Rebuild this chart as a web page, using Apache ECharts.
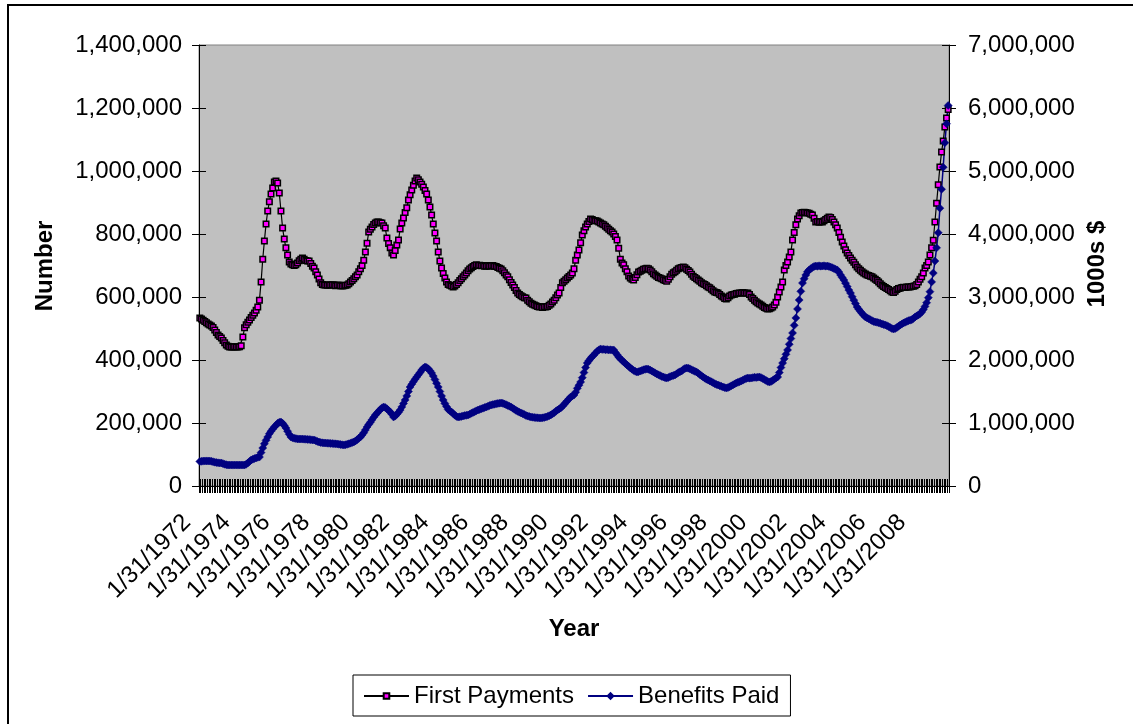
<!DOCTYPE html>
<html>
<head>
<meta charset="utf-8">
<script src="https://cdn.jsdelivr.net/npm/echarts@6/dist/echarts.min.js"></script>
<style>
  html, body { margin: 0; padding: 0; background: #ffffff; }
  #chart { width: 1133px; height: 724px; }
</style>
</head>
<body>
<div id="chart"></div>
<script>
// Monthly series, January 1972 through September 2009 (one row per year).
const firstYear = 1972;

// First payments, thousands of people (left axis)
const firstPaymentsK = [
  533, 530, 526, 522, 518, 514, 511, 508, 503, 495, 487, 479,
  475, 470, 462, 455, 448, 444, 441, 441, 441, 442, 441, 441,
  442, 445, 473, 502, 512, 520, 527, 535, 542, 549, 558, 568,
  590, 648, 720, 778, 832, 873, 902, 927, 946, 965, 968, 962,
  930, 873, 819, 784, 756, 733, 711, 705, 702, 700, 702, 708,
  715, 720, 724, 720, 716, 714, 714, 706, 698, 692, 680, 670,
  657, 645, 640, 638, 638, 637, 638, 638, 639, 638, 636, 637,
  638, 636, 635, 636, 637, 638, 642, 648, 652, 658, 664, 670,
  680, 690, 700, 717, 743, 771, 806, 815, 822, 830, 835, 838,
  838, 836, 835, 826, 819, 787, 770, 756, 740, 733, 748, 765,
  781, 816, 835, 851, 868, 883, 908, 925, 940, 955, 968, 978,
  972, 965, 958, 949, 938, 927, 908, 886, 860, 832, 803, 778,
  743, 714, 692, 675, 660, 648, 640, 637, 635, 632, 635, 640,
  645, 652, 658, 664, 670, 676, 683, 689, 693, 697, 700, 702,
  700, 701, 699, 700, 698, 698, 700, 698, 699, 700, 698, 697,
  694, 691, 689, 683, 677, 670, 664, 655, 646, 638, 630, 621,
  613, 608, 604, 601, 598, 597, 590, 585, 580, 577, 575, 572,
  570, 568, 569, 567, 569, 568, 570, 574, 578, 584, 590, 598,
  606, 613, 630, 645, 650, 655, 660, 665, 670, 676, 690, 717,
  733, 749, 772, 797, 810, 822, 832, 840, 848, 846, 843, 842,
  841, 838, 835, 832, 829, 825, 820, 815, 810, 806, 800, 792,
  781, 755, 720, 708, 702, 690, 680, 667, 660, 656, 654, 662,
  671, 679, 682, 685, 688, 690, 691, 690, 686, 680, 674, 670,
  666, 662, 660, 658, 655, 652, 650, 656, 664, 672, 677, 680,
  685, 690, 692, 694, 695, 693, 688, 684, 679, 672, 666, 662,
  658, 654, 650, 645, 642, 640, 636, 632, 629, 625, 620, 616,
  614, 613, 608, 603, 600, 595, 594, 598, 603, 606, 608, 609,
  611, 612, 613, 613, 614, 613, 612, 613, 608, 600, 595, 590,
  585, 581, 578, 575, 571, 567, 564, 562, 563, 565, 568, 575,
  583, 600, 616, 632, 648, 686, 700, 711, 727, 743, 781, 805,
  829, 848, 858, 867, 868, 869, 868, 867, 866, 863, 860, 850,
  838, 840, 837, 839, 838, 842, 846, 850, 854, 852, 846, 838,
  829, 819, 805, 790, 775, 762, 750, 740, 732, 724, 717, 710,
  702, 695, 690, 685, 680, 676, 673, 670, 668, 666, 664, 660,
  656, 652, 648, 642, 637, 633, 630, 627, 624, 620, 616, 614,
  618, 624, 627, 628, 630, 631, 630, 632, 632, 632, 633, 634,
  636, 640, 648, 656, 664, 676, 692, 700, 711, 733, 756, 780,
  838, 898, 956, 1013, 1060, 1095, 1140, 1168, 1195
];

// Benefits paid, millions of dollars (right axis, shown in 1000s $)
const benefitsPaidM = [
  390, 392, 395, 397, 398, 397, 397, 392, 385, 378, 372, 368,
  366, 365, 355, 345, 338, 333, 333, 333, 332, 333, 333, 332,
  333, 333, 333, 333, 345, 365, 390, 413, 425, 435, 445, 455,
  460, 530, 603, 670, 725, 778, 830, 870, 905, 937, 965, 995,
  1010, 1016, 995, 960, 921, 870, 820, 778, 765, 758, 752, 748,
  746, 746, 745, 744, 742, 740, 738, 735, 732, 730, 720, 708,
  698, 690, 686, 683, 682, 680, 678, 676, 674, 671, 669, 667,
  663, 658, 654, 651, 655, 662, 670, 680, 689, 698, 715, 735,
  756, 778, 810, 845, 890, 937, 975, 1012, 1050, 1090, 1127, 1155,
  1185, 1215, 1240, 1254, 1245, 1225, 1200, 1175, 1140, 1095, 1110, 1140,
  1170, 1206, 1255, 1310, 1365, 1430, 1500, 1571, 1615, 1655, 1695, 1730,
  1765, 1800, 1840, 1870, 1889, 1880, 1860, 1830, 1794, 1745, 1690, 1630,
  1571, 1500, 1430, 1365, 1310, 1260, 1215, 1195, 1175, 1150, 1125, 1105,
  1095, 1098, 1105, 1112, 1118, 1122, 1127, 1140, 1155, 1168, 1180, 1193,
  1206, 1215, 1225, 1235, 1245, 1255, 1265, 1276, 1286, 1292, 1298, 1305,
  1310, 1315, 1317, 1312, 1302, 1290, 1278, 1266, 1254, 1235, 1218, 1200,
  1185, 1172, 1159, 1148, 1135, 1120, 1110, 1102, 1095, 1092, 1088, 1085,
  1082, 1080, 1079, 1082, 1088, 1095, 1105, 1115, 1127, 1145, 1163, 1185,
  1205, 1222, 1240, 1265, 1295, 1325, 1355, 1385, 1413, 1430, 1444, 1490,
  1550, 1600, 1651, 1720, 1800, 1880, 1952, 1990, 2025, 2055, 2079, 2110,
  2140, 2160, 2175, 2168, 2170, 2162, 2165, 2160, 2162, 2158, 2159, 2120,
  2085, 2048, 2020, 1995, 1970, 1945, 1921, 1900, 1875, 1855, 1835, 1820,
  1810, 1815, 1825, 1835, 1845, 1852, 1857, 1852, 1840, 1825, 1810, 1795,
  1778, 1765, 1752, 1740, 1730, 1720, 1714, 1722, 1735, 1745, 1755, 1762,
  1780, 1800, 1812, 1825, 1850, 1865, 1873, 1870, 1860, 1845, 1832, 1820,
  1810, 1790, 1768, 1750, 1730, 1712, 1695, 1683, 1668, 1655, 1640, 1625,
  1612, 1603, 1592, 1582, 1570, 1562, 1556, 1562, 1575, 1590, 1605, 1620,
  1635, 1645, 1655, 1668, 1680, 1695, 1705, 1714, 1712, 1715, 1720, 1725,
  1722, 1728, 1730, 1720, 1705, 1690, 1675, 1660, 1651, 1660, 1675, 1695,
  1715, 1730, 1800, 1880, 1952, 2020, 2090, 2159, 2250, 2340, 2429, 2550,
  2667, 2810, 2952, 3090, 3222, 3290, 3350, 3400, 3429, 3450, 3470, 3485,
  3492, 3488, 3495, 3490, 3492, 3496, 3490, 3492, 3485, 3475, 3465, 3452,
  3440, 3429, 3395, 3350, 3310, 3270, 3220, 3165, 3110, 3063, 3005, 2950,
  2895, 2841, 2805, 2770, 2740, 2710, 2683, 2668, 2655, 2640, 2625, 2612,
  2603, 2598, 2590, 2582, 2572, 2563, 2556, 2545, 2530, 2515, 2500, 2492,
  2500, 2515, 2535, 2555, 2570, 2587, 2600, 2612, 2625, 2632, 2640, 2660,
  2683, 2700, 2715, 2735, 2760, 2800, 2850, 2910, 2990, 3085, 3240, 3380,
  3570, 3780, 4020, 4410, 4710, 5060, 5450, 5750, 6040
];

// Axis ranges
const leftAxis = { min: 0, max: 1400000, step: 200000 };
const rightAxis = { min: 0, max: 7000000, step: 1000000 };
const labelEvery = 24; // one date label every two years

// Month-end dates as M/D/YYYY
const categories = firstPaymentsK.map(function (_, n) {
  const y = firstYear + Math.floor(n / 12);
  const m = (n % 12) + 1;
  const d = new Date(y, m, 0).getDate();
  return m + '/' + d + '/' + y;
});

const firstPayments = firstPaymentsK.map(v => v * 1000);
const benefitsPaid = benefitsPaidM.map(v => v * 1000);

const FONT = '"Liberation Sans", Arial, Helvetica, sans-serif';
const FS = 24;
const fmt = v => Number(v).toLocaleString('en-US');

const chart = echarts.init(document.getElementById('chart'), null, { renderer: 'canvas' });

function xAxisDef(inside) {
  return {
    type: 'category',
    data: categories,
    position: 'bottom',
    boundaryGap: true,
    axisLine: { show: !inside, onZero: false, lineStyle: { color: '#000', width: 1 } },
    axisTick: { show: true, interval: 0, inside: inside, length: 7, lineStyle: { color: '#000', width: 1 } },
    axisLabel: inside ? { show: false } : {
      show: true, interval: labelEvery - 1, rotate: 45, margin: 20,
      padding: [0, 18, 0, 0],
      color: '#000', fontFamily: FONT, fontSize: FS
    },
    splitLine: { show: false }
  };
}

function yAxisDef(range, pos, inside, margin) {
  return {
    type: 'value',
    position: pos,
    min: range.min, max: range.max, interval: range.step,
    axisLine: { show: !inside, lineStyle: { color: '#000', width: 1 } },
    axisTick: { show: true, inside: inside, length: 7, lineStyle: { color: '#000', width: 1 } },
    axisLabel: inside ? { show: false } : {
      show: true, margin: margin, formatter: fmt,
      color: '#000', fontFamily: FONT, fontSize: FS
    },
    splitLine: { show: false }
  };
}

const option = {
  animation: false,
  backgroundColor: '#ffffff',
  textStyle: { fontFamily: FONT },
  grid: {
    left: 199, top: 45, width: 750, height: 441,
    show: true, backgroundColor: '#C0C0C0', borderColor: '#808080', borderWidth: 1
  },
  xAxis: [xAxisDef(false), xAxisDef(true)],
  yAxis: [
    yAxisDef(leftAxis, 'left', false, 17),
    yAxisDef(rightAxis, 'right', false, 19),
    yAxisDef(leftAxis, 'left', true, 0),
    yAxisDef(rightAxis, 'right', true, 0)
  ],
  legend: {
    left: 353, top: 675,
    orient: 'horizontal',
    borderColor: '#000', borderWidth: 1,
    padding: [9, 11, 8, 10],
    itemGap: 13, itemWidth: 45, itemHeight: 7,
    textStyle: { color: '#000', fontFamily: FONT, fontSize: FS },
    data: ['First Payments', 'Benefits Paid']
  },
  series: [
    {
      name: 'First Payments',
      type: 'line',
      xAxisIndex: 0, yAxisIndex: 0,
      data: firstPayments,
      symbol: 'rect', symbolSize: 5.5, showAllSymbol: true,
      lineStyle: { color: '#000', width: 1.2 },
      itemStyle: { color: '#FF00FF', borderColor: '#000', borderWidth: 1.5 },
      emphasis: { disabled: true }
    },
    {
      name: 'Benefits Paid',
      type: 'line',
      xAxisIndex: 0, yAxisIndex: 1,
      data: benefitsPaid,
      symbol: 'diamond', symbolSize: 8, showAllSymbol: true,
      lineStyle: { color: '#000080', width: 1.5 },
      itemStyle: { color: '#000080', borderColor: '#000080', borderWidth: 0.5 },
      emphasis: { disabled: true }
    }
  ],
  graphic: [
    {
      type: 'rect', silent: true, z: -1,
      shape: { x: 8, y: 5, width: 1140, height: 740 },
      style: { fill: 'none', stroke: '#000', lineWidth: 2 }
    },
    {
      type: 'text', x: 45, y: 266, rotation: Math.PI / 2,
      style: { text: 'Number', font: 'bold ' + FS + 'px ' + FONT, fill: '#000', textAlign: 'center', textVerticalAlign: 'middle' }
    },
    {
      type: 'text', x: 1097, y: 264, rotation: Math.PI / 2,
      style: { text: '1000s $', font: 'bold ' + FS + 'px ' + FONT, fill: '#000', textAlign: 'center', textVerticalAlign: 'middle' }
    },
    {
      type: 'text', x: 574, y: 629,
      style: { text: 'Year', font: 'bold ' + FS + 'px ' + FONT, fill: '#000', textAlign: 'center', textVerticalAlign: 'middle' }
    }
  ]
};

chart.setOption(option);
</script>
</body>
</html>
